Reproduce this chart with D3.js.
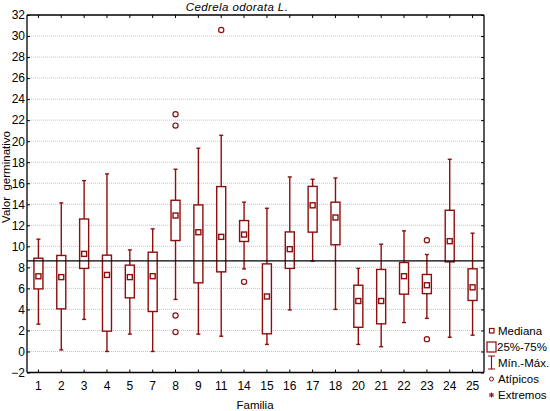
<!DOCTYPE html>
<html>
<head>
<meta charset="utf-8">
<script src="https://cdn.jsdelivr.net/npm/d3@7"></script>
<style>
  body { margin: 0; background: #fff; }
  text { font-family: "Liberation Sans", Arial, sans-serif; fill: #000; }
</style>
</head>
<body>
<svg id="chart"></svg>
<script>
const familias = ["1","2","3","4","5","7","8","9","11","14","15","16","17","18","20","21","22","23","24","25"];
const minimo  = [2.6, 0.15, 3.05, 0.0, 1.65, 0.0, 4.95, 1.65, 1.45, 7.85, 0.67, 3.95, 8.6, 4.0, 0.67, 0.45, 2.75, 3.15, 1.35, 1.55];
const q1      = [5.95, 4.05, 7.9, 1.93, 5.1, 3.8, 10.55, 6.53, 7.57, 10.46, 1.68, 7.9, 11.35, 10.15, 2.3, 2.63, 5.45, 5.5, 8.52, 4.85];
const mediana = [7.15, 7.07, 9.28, 7.28, 7.07, 7.16, 12.93, 11.34, 10.9, 11.12, 5.23, 9.73, 13.9, 12.74, 4.8, 4.8, 7.16, 6.3, 10.49, 6.1];
const q3      = [8.87, 9.13, 12.6, 9.16, 8.21, 9.44, 14.38, 13.94, 15.68, 12.45, 8.33, 11.37, 15.7, 14.2, 6.3, 7.8, 8.46, 7.32, 13.43, 7.86];
const maximo  = [10.68, 14.13, 16.25, 16.89, 9.66, 11.66, 17.33, 19.33, 20.56, 14.2, 13.62, 16.6, 16.38, 16.5, 7.9, 10.2, 11.47, 9.22, 18.28, 11.25];
const atipicoFamilia = ["8", "8", "8", "8", "11", "14", "23", "23"];
const atipicoValor   = [22.56, 21.48, 3.42, 1.84, 30.58, 6.62, 10.58, 1.17];
const mediaGeneral = 8.62;
const yTicks = d3.range(-2, 33, 2);
const leyenda = ["Mediana", "25%-75%", "Mín.-Máx.", "Atípicos", "Extremos"];

const w = 550, h = 411;
const mLeft = 27, mRight = 484, mTop = 15, mBottom = 372.5;
const color = "#8e0d0d";

const svg = d3.select("#chart").attr("width", w).attr("height", h);

const x = d3.scaleBand().domain(familias).range([mLeft, mRight]);
const y = d3.scaleLinear().domain([-2, 32]).range([mBottom, mTop]);

// grid
svg.append("g")
  .selectAll("line")
  .data(yTicks.filter(d => d > -2 && d < 32))
  .enter().append("line")
  .attr("x1", mLeft).attr("x2", mRight)
  .attr("y1", d => y(d)).attr("y2", d => y(d))
  .attr("stroke", "#c4c4c4")
  .attr("stroke-dasharray", "1,1")
  .attr("stroke-width", 1);

// axes (ticks inward)
const yAxis = d3.axisLeft(y).tickValues(yTicks).tickSize(-3).tickPadding(2).tickFormat(d3.format("d"));
const gy = svg.append("g").attr("transform", "translate(" + mLeft + ",0)").call(yAxis);
const gyr = svg.append("g").attr("transform", "translate(" + mRight + ",0)")
  .call(d3.axisRight(y).tickValues(yTicks).tickSize(-3).tickFormat(""));
const gx = svg.append("g").attr("transform", "translate(0," + mBottom + ")")
  .call(d3.axisBottom(x).tickSize(-3).tickPadding(9));
const gxt = svg.append("g").attr("transform", "translate(0," + mTop + ")")
  .call(d3.axisTop(x).tickSize(-3).tickFormat(""));

[gy, gyr, gx, gxt].forEach(g => {
  g.select(".domain").attr("stroke", "#000").attr("stroke-width", 1.3);
  g.selectAll(".tick line").attr("stroke", "#000");
  g.selectAll("text").attr("font-size", 12).attr("fill", "#000")
    .attr("font-family", "Liberation Sans, Arial, sans-serif");
});
gy.select(".domain").attr("d", "M0," + mBottom + "V" + mTop);
gyr.select(".domain").attr("d", "M0," + mBottom + "V" + mTop);
gx.select(".domain").attr("d", "M" + mLeft + ",0H" + mRight);
gxt.select(".domain").attr("d", "M" + mLeft + ",0H" + mRight);

// boxes
const boxW = 9, capW = 4, medW = 5;
const idx = d3.range(familias.length);
const cx = i => x(familias[i]) + x.bandwidth() / 2;

const g = svg.append("g").attr("stroke", color).attr("stroke-width", 1.4).attr("fill", "none");

g.selectAll(".whisk").data(idx).enter().append("line")
  .attr("x1", cx).attr("x2", cx)
  .attr("y1", i => y(minimo[i])).attr("y2", i => y(maximo[i]));

g.selectAll(".capTop").data(idx).enter().append("line")
  .attr("x1", i => cx(i) - capW / 2).attr("x2", i => cx(i) + capW / 2)
  .attr("y1", i => y(maximo[i])).attr("y2", i => y(maximo[i]));
g.selectAll(".capBot").data(idx).enter().append("line")
  .attr("x1", i => cx(i) - capW / 2).attr("x2", i => cx(i) + capW / 2)
  .attr("y1", i => y(minimo[i])).attr("y2", i => y(minimo[i]));

g.selectAll(".box").data(idx).enter().append("rect")
  .attr("x", i => cx(i) - boxW / 2)
  .attr("y", i => y(q3[i]))
  .attr("width", boxW)
  .attr("height", i => y(q1[i]) - y(q3[i]))
  .attr("fill", "#fff");

g.selectAll(".med").data(idx).enter().append("rect")
  .attr("x", i => cx(i) - medW / 2)
  .attr("y", i => y(mediana[i]) - medW / 2)
  .attr("width", medW).attr("height", medW)
  .attr("fill", "#fff");

g.selectAll(".out").data(d3.range(atipicoValor.length)).enter().append("circle")
  .attr("cx", i => x(atipicoFamilia[i]) + x.bandwidth() / 2)
  .attr("cy", i => y(atipicoValor[i]))
  .attr("r", 2.6)
  .attr("stroke-width", 1.2)
  .attr("fill", "#fff");

// mean line
svg.append("line")
  .attr("x1", mLeft).attr("x2", mRight)
  .attr("y1", y(mediaGeneral)).attr("y2", y(mediaGeneral))
  .attr("stroke", "#000").attr("stroke-width", 1.3);

// titles
svg.append("text")
  .attr("x", 237).attr("y", 11)
  .attr("text-anchor", "middle")
  .attr("font-size", 11.5).attr("font-style", "italic")
  .attr("letter-spacing", 0.4)
  .text("Cedrela odorata L.");
svg.append("text")
  .attr("x", 255).attr("y", 409)
  .attr("text-anchor", "middle")
  .attr("font-size", 11.5)
  .text("Familia");
svg.append("text")
  .attr("transform", "translate(10,177) rotate(-90)")
  .attr("text-anchor", "middle")
  .attr("font-size", 11.5)
  .style("white-space", "pre")
  .text("Valor  germinativo");

// legend
const lx = 487, ly = [331, 347, 363, 379, 395];
const legend = svg.append("g").attr("id", "legend");
legend.append("rect").attr("x", lx + 2.5).attr("y", ly[0] - 2.5).attr("width", 4.5).attr("height", 4.5)
  .attr("fill", "#fff").attr("stroke", color).attr("stroke-width", 1.2);
legend.append("rect").attr("x", lx).attr("y", ly[1] - 5).attr("width", 9).attr("height", 10)
  .attr("fill", "#fff").attr("stroke", color).attr("stroke-width", 1.2);
legend.append("path").attr("d", "M" + (lx + 1) + "," + (ly[2] - 7) + "H" + (lx + 8) +
  "M" + (lx + 4.5) + "," + (ly[2] - 7) + "V" + (ly[2] + 6) + "M" + (lx + 1) + "," + (ly[2] + 6) + "H" + (lx + 8))
  .attr("stroke", color).attr("stroke-width", 1.2).attr("fill", "none");
legend.append("circle").attr("cx", lx + 4.5).attr("cy", ly[3]).attr("r", 2)
  .attr("fill", "#fff").attr("stroke", color).attr("stroke-width", 1);
legend.append("path").attr("d", "M" + (lx + 2) + "," + ly[4] + "H" + (lx + 7) +
  "M" + (lx + 4.5) + "," + (ly[4] - 2.5) + "V" + (ly[4] + 2.5) +
  "M" + (lx + 2.5) + "," + (ly[4] - 2) + "L" + (lx + 6.5) + "," + (ly[4] + 2) +
  "M" + (lx + 2.5) + "," + (ly[4] + 2) + "L" + (lx + 6.5) + "," + (ly[4] - 2))
  .attr("stroke", color).attr("stroke-width", 1).attr("fill", "none");
legend.selectAll("text").data(leyenda).enter().append("text")
  .attr("x", (d, i) => i === 1 ? lx + 10 : lx + 11)
  .attr("y", (d, i) => ly[i] + 4)
  .attr("font-size", 11.5)
  .text(d => d);
</script>
</body>
</html>
